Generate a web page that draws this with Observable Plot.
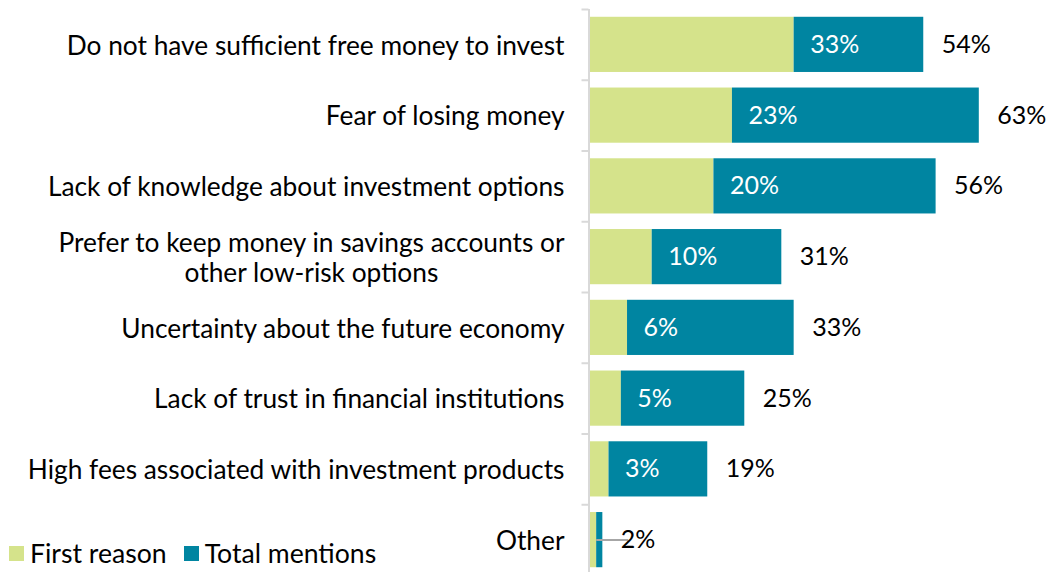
<!DOCTYPE html>
<html><head><meta charset="utf-8">
<script src="https://cdn.jsdelivr.net/npm/d3@7"></script>
<script src="https://cdn.jsdelivr.net/npm/@observablehq/plot@0.6"></script>
<style>
body{margin:0;background:#fff;font-family:Lato,sans-serif}
#wrap{position:relative;width:1049px;height:572px}
#legend{position:absolute;left:9px;top:539px;font-size:26.6px;display:flex;align-items:center;color:#000;line-height:28px}
.sw{display:inline-block;width:15px;height:15px;margin-right:6px}
.item{display:flex;align-items:center;margin-right:17px}
</style></head><body><div id="wrap"></div>
<script>
const categories = [
  "Do not have sufficient free money to invest",
  "Fear of losing money",
  "Lack of knowledge about investment options",
  "Prefer to keep money in savings accounts or\nother low-risk options",
  "Uncertainty about the future economy",
  "Lack of trust in financial institutions",
  "High fees associated with investment products",
  "Other"
];
const firstReason = [33, 23, 20, 10, 6, 5, 3, 1];
const totalMentions = [54, 63, 56, 31, 33, 25, 19, 2];
const firstLabels = ["33%", "23%", "20%", "10%", "6%", "5%", "3%", ""];
const totalLabels = ["54%", "63%", "56%", "31%", "33%", "25%", "19%", "2%"];
const seriesNames = ["First reason", "Total mentions"];
const colors = ["#d5e38b", "#0085a1"];

const data = categories.map((c, i) => ({
  cat: c, first: firstReason[i], total: totalMentions[i],
  fl: firstLabels[i], tl: totalLabels[i]
}));
const other = data.filter(d => d.cat === "Other");

const chart = Plot.plot({
  width: 1049, height: 572,
  marginLeft: 590, marginRight: 27, marginTop: 9, marginBottom: 0,
  style: {fontFamily: "Lato, sans-serif", fontSize: "26px", color: "#000", background: "#fff"},
  x: {domain: [0, 70], axis: null},
  y: {domain: categories, range: [9, 575], paddingInner: 0.22, paddingOuter: 0.11, round: false, label: null},
  marks: [
    Plot.barX(data, {y: "cat", x1: 0, x2: "first", fill: colors[0]}),
    Plot.barX(data, {y: "cat", x1: "first", x2: "total", fill: colors[1]}),
    Plot.ruleY(other, {y: "cat", x1: "first", x2: d => d.total + 4.2, stroke: "#a6a6a6", strokeWidth: 2}),
    Plot.ruleX([0], {stroke: "#d9d9d9", strokeWidth: 2, dx: -1.5}),
    Plot.axisY({tickSize: 7, tickFormat: () => "", stroke: "#d9d9d9", strokeWidth: 2, strokeOpacity: 1, dy: -35.375, dx: -1.5}),
    Plot.axisY({tickSize: 0, tickPadding: 26, fontSize: 26.3, fill: "#000", lineHeight: 1.15, textAnchor: "end"}),
    Plot.text(data, {y: "cat", x: "first", text: "fl", dx: 16, textAnchor: "start", fill: "#fff", fontSize: 25}),
    Plot.text(data, {y: "cat", x: "total", text: "tl", dx: 18, textAnchor: "start", fill: "#000", fontSize: 25})
  ]
});
document.getElementById("wrap").appendChild(chart);

// center multi-line category labels within their right-aligned block
chart.querySelectorAll("text").forEach(t => {
  const spans = t.querySelectorAll("tspan");
  if (spans.length > 1) {
    let w = 0;
    spans.forEach(s => { w = Math.max(w, s.getComputedTextLength()); });
    t.setAttribute("text-anchor", "middle");
    spans.forEach(s => { s.setAttribute("x", (parseFloat(s.getAttribute("x")) || 0) - w / 2); });
  }
});

const legend = document.createElement("div");
legend.id = "legend";
seriesNames.forEach((n, i) => {
  const it = document.createElement("span");
  it.className = "item";
  const sw = document.createElement("span");
  sw.className = "sw"; sw.style.background = colors[i];
  it.appendChild(sw);
  it.appendChild(document.createTextNode(n));
  legend.appendChild(it);
});
document.getElementById("wrap").appendChild(legend);
</script></body></html>
